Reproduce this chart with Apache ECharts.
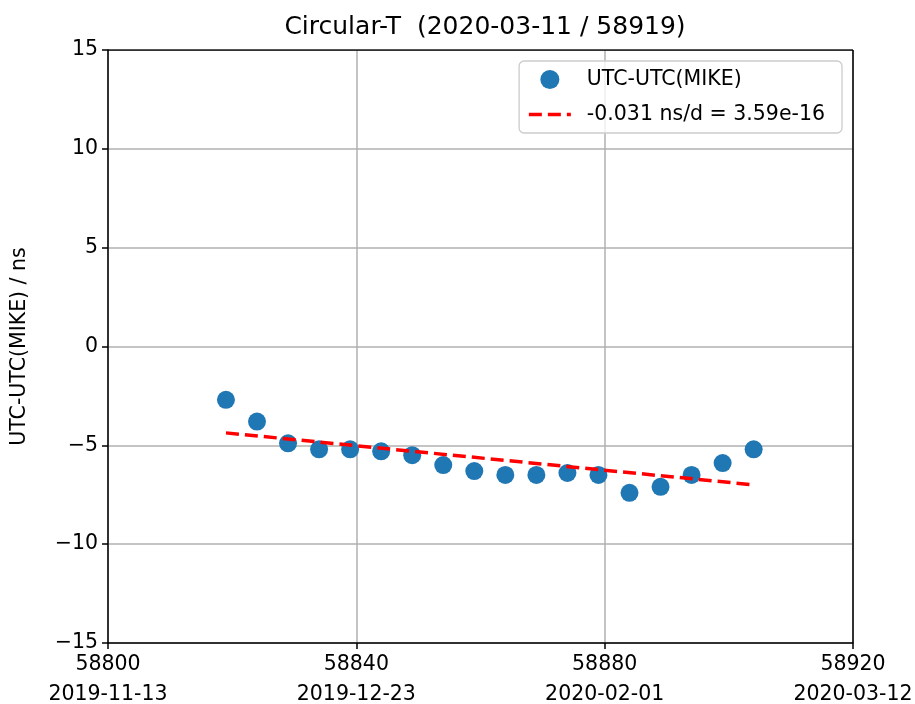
<!DOCTYPE html>
<html><head><meta charset="utf-8">
<script src="https://cdn.jsdelivr.net/npm/echarts@6/dist/echarts.min.js"></script>
<style>html,body{margin:0;padding:0;background:#fff}#c{width:915px;height:704px}</style>
</head><body><div id="c"></div>
<script>
const titleText = 'Circular-T  (2020-03-11 / 58919)';
const mjd = [58819,58824,58829,58834,58839,58844,58849,58854,58859,58864,58869,58874,58879,58884,58889,58894,58899,58904];
const offsetNs = [-2.7,-3.8,-4.9,-5.2,-5.2,-5.3,-5.5,-6.0,-6.3,-6.5,-6.5,-6.4,-6.5,-7.4,-7.1,-6.5,-5.9,-5.2];
const fitX = [58819, 58904];
const fitY = [-4.37, -7.0];
const xTickMjd = [58800, 58840, 58880, 58920];
const xTickDates = ['2019-11-13','2019-12-23','2020-02-01','2020-03-12'];
const seriesName = 'UTC-UTC(MIKE)';
const fitName = '-0.031 ns/d = 3.59e-16';
const yName = 'UTC-UTC(MIKE) / ns';

const font = 'DejaVu Sans';
const fs = 20.5;
const chart = echarts.init(document.getElementById('c'));
chart.setOption({
  backgroundColor: '#fff',
  animation: false,
  textStyle: {fontFamily: font},
  title: {text: titleText, left: 480, top: 10, textAlign: 'center',
    textStyle: {fontFamily: font, fontSize: 25, fontWeight: 'normal', color: '#000'}},
  grid: {left: 108, right: 62, top: 50, bottom: 61, containLabel: false, outerBoundsMode: 'none'},
  legend: {
    orient: 'vertical', right: 73, top: 61,
    backgroundColor: 'rgba(255,255,255,0.8)', borderColor: '#cccccc', borderWidth: 1.3, borderRadius: 5,
    padding: [8, 17, 8, 8], itemGap: 14, itemWidth: 42, itemHeight: 19,
    textStyle: {fontFamily: font, fontSize: fs, color: '#000', padding: [0,0,0,11]},
    data: [{name: seriesName, icon: 'circle'},
           {name: fitName, itemStyle: {opacity: 0}, lineStyle: {width: 3.5, type: [13, 6], color: '#ff0000'}}]
  },
  xAxis: {
    type: 'value', min: 58800, max: 58920, interval: 40,
    axisLine: {onZero: false, lineStyle: {color: '#000', width: 1.5}},
    axisTick: {show: true, length: 6, lineStyle: {color: '#000', width: 1.5}},
    axisLabel: {fontFamily: font, fontSize: fs, color: '#000', lineHeight: 30, margin: 7,
      formatter: v => { const i = xTickMjd.indexOf(v); return v + '\n' + (i >= 0 ? xTickDates[i] : ''); }},
    splitLine: {show: true, lineStyle: {color: '#b0b0b0', width: 1.5}}
  },
  yAxis: {
    type: 'value', min: -15, max: 15, interval: 5,
    name: yName, nameLocation: 'middle', nameGap: 78,
    nameTextStyle: {fontFamily: font, fontSize: fs, color: '#000'},
    axisLine: {show: true, onZero: false, lineStyle: {color: '#000', width: 1.5}},
    axisTick: {show: true, length: 6, lineStyle: {color: '#000', width: 1.5}},
    axisLabel: {fontFamily: font, fontSize: fs, color: '#000', margin: 10,
      formatter: v => String(v).replace('-', '\u2212')},
    splitLine: {show: true, lineStyle: {color: '#b0b0b0', width: 1.5}}
  },
  series: [
    {name: seriesName, type: 'scatter', symbol: 'circle', symbolSize: 18,
     itemStyle: {color: '#1f77b4', opacity: 1},
     data: mjd.map((x, i) => [x, offsetNs[i]]), z: 2},
    {name: fitName, type: 'line', showSymbol: false, symbol: 'none',
     lineStyle: {color: '#ff0000', width: 3.5, type: [13, 6]},
     itemStyle: {color: '#ff0000'},
     data: fitX.map((x, i) => [x, fitY[i]]), z: 3},
    {type: 'line', silent: true, symbol: 'none', data: [[58920, -15],[58920, 15]],
     lineStyle: {color: '#000', width: 1.5}, z: 4},
    {type: 'line', silent: true, symbol: 'none', data: [[58800, 15],[58920, 15]],
     lineStyle: {color: '#000', width: 1.5}, z: 4}
  ]
});
</script></body></html>
